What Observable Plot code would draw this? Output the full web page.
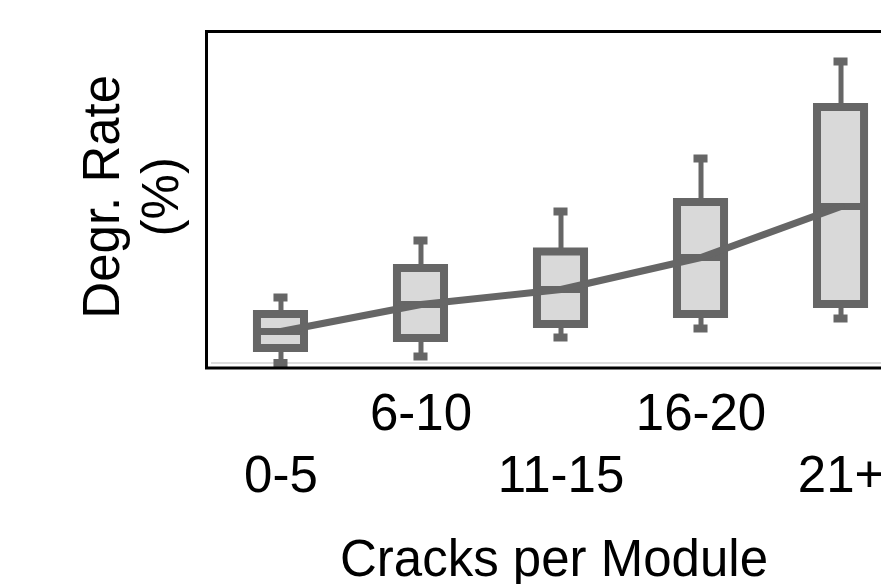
<!DOCTYPE html>
<html>
<head>
<meta charset="utf-8">
<script src="https://cdn.jsdelivr.net/npm/d3@7"></script>
<script src="https://cdn.jsdelivr.net/npm/@observablehq/plot@0.6"></script>
<style>
  html, body { margin: 0; padding: 0; background: #fff; overflow: hidden; }
  #chart svg { max-width: none !important; }
</style>
</head>
<body>
<div id="chart"></div>
<script>
// Categories (cracks per module) and box statistics (degradation rate, %/yr, estimated)
const categories = ["0-5", "6-10", "11-15", "16-20", "21+"];
const whiskerLow  = [0.00, 0.065, 0.255, 0.345, 0.445];
const q1          = [0.145, 0.245, 0.385, 0.485, 0.585];
const median      = [0.315, 0.585, 0.735, 1.055, 1.565];
const q3          = [0.485, 0.945, 1.11, 1.605, 2.555];
const whiskerHigh = [0.655, 1.225, 1.515, 2.045, 3.015];
const upperRowTicks = ["6-10", "16-20"];
const lowerRowTicks = ["0-5", "11-15", "21+"];
const xLabel = "Cracks per Module";
const yLabelLines = ["Degr. Rate", "(%)"];

const data = categories.map((c, i) => ({
  cat: c, lo: whiskerLow[i], q1: q1[i], med: median[i], q3: q3[i], hi: whiskerHigh[i]
}));

const dark = "#666666";
const light = "#d9d9d9";
const font = "'Liberation Sans', Arial, Helvetica, sans-serif";

const chart = Plot.plot({
  width: 920,
  height: 584,
  marginLeft: 206,
  marginRight: 5,
  marginTop: 31,
  marginBottom: 216.5,
  style: {fontFamily: font, fontSize: "51px", background: "white", color: "black", maxWidth: "none"},
  x: {type: "band", domain: categories, paddingInner: 0.664, paddingOuter: 0.364, round: false},
  y: {domain: [-0.05, 3.315], axis: null},
  marks: [
    Plot.ruleY([0], {stroke: "#dddddd", strokeWidth: 2, insetLeft: 5}),
    Plot.ruleX(data, {x: "cat", y1: "lo", y2: "q1", stroke: dark, strokeWidth: 5}),
    Plot.ruleX(data, {x: "cat", y1: "q3", y2: "hi", stroke: dark, strokeWidth: 5}),
    Plot.barY(data, {x: "cat", y1: "q1", y2: "q3", fill: light, stroke: dark, strokeWidth: 8}),
    Plot.tickY(data, {x: "cat", y: "lo", stroke: dark, strokeWidth: 8, insetLeft: 16.5, insetRight: 16.5}),
    Plot.tickY(data, {x: "cat", y: "hi", stroke: dark, strokeWidth: 8, insetLeft: 16.5, insetRight: 16.5}),
    Plot.tickY(data, {x: "cat", y: "med", stroke: dark, strokeWidth: 7}),
    Plot.line(data, {x: "cat", y: "med", stroke: dark, strokeWidth: 7}),
    Plot.frame({stroke: "black", strokeWidth: 3}),
    Plot.axisX(upperRowTicks, {tickSize: 0, tickPadding: 25.5, fontSize: 51, label: null, fill: "black"}),
    Plot.axisX(lowerRowTicks, {tickSize: 0, tickPadding: 87.5, fontSize: 51, label: null, fill: "black"}),
    Plot.text([xLabel], {frameAnchor: "bottom", textAnchor: "middle", lineAnchor: "bottom", dy: 207.5, dx: -7, fontSize: 51, fill: "black"}),
    Plot.text([yLabelLines[0]], {frameAnchor: "left", textAnchor: "middle", lineAnchor: "bottom", rotate: -90, dx: -88, dy: -3, fontSize: 51, fill: "black"}),
    Plot.text([yLabelLines[1]], {frameAnchor: "left", textAnchor: "middle", lineAnchor: "bottom", rotate: -90, dx: -29, dy: -3, fontSize: 51, fill: "black"})
  ]
});
document.getElementById("chart").appendChild(chart);
</script>
</body>
</html>
